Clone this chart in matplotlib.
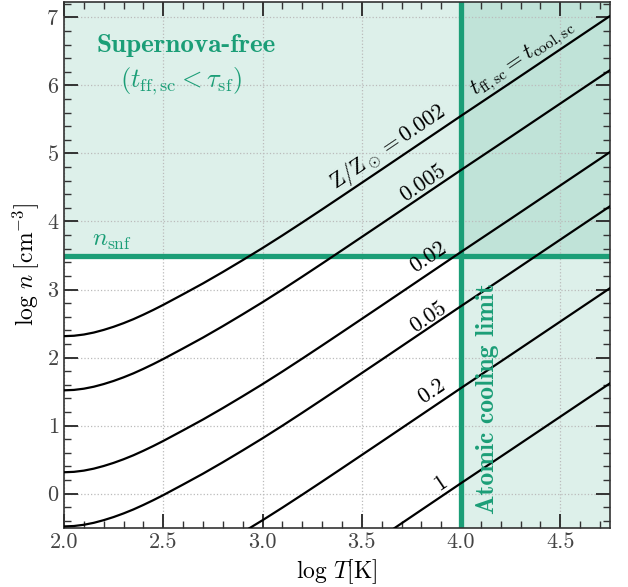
import numpy as np
import matplotlib
matplotlib.use("Agg")
import matplotlib.pyplot as plt
import matplotlib as mpl

mpl.rcParams.update({'font.family': 'serif',
                     'font.serif': ['cmr10'],
                     'mathtext.fontset': 'cm',
                     'axes.unicode_minus': False,
                     'axes.formatter.use_mathtext': True})

# log T grid and log n for each metallicity
log_T = [2.0, 2.05, 2.1, 2.15, 2.2, 2.25, 2.3, 2.35, 2.4, 2.45, 2.5, 2.55, 2.6,
         2.7, 2.8, 2.9, 3.0, 3.1, 3.2, 3.3, 3.4, 3.5, 3.6, 3.7, 3.8, 3.9, 4.0,
         4.25, 4.5, 4.75]
n_z0002 = [2.315, 2.321, 2.339, 2.368, 2.407, 2.453, 2.506, 2.565, 2.631, 2.701,
           2.775, 2.853, 2.931, 3.09, 3.258, 3.432, 3.61, 3.795, 3.985, 4.178,
           4.373, 4.569, 4.765, 4.962, 5.159, 5.356, 5.553, 6.04, 6.53, 7.02]
n_z0005 = [1.519, 1.525, 1.543, 1.572, 1.611, 1.657, 1.710, 1.769, 1.835, 1.905,
           1.979, 2.057, 2.135, 2.294, 2.462, 2.636, 2.814, 2.999, 3.189, 3.382,
           3.577, 3.773, 3.969, 4.166, 4.363, 4.560, 4.757, 5.244, 5.734, 6.224]
n_z002 = [0.315, 0.321, 0.339, 0.368, 0.407, 0.453, 0.506, 0.565, 0.631, 0.701,
          0.775, 0.853, 0.931, 1.09, 1.258, 1.432, 1.61, 1.795, 1.985, 2.178,
          2.373, 2.569, 2.765, 2.962, 3.159, 3.356, 3.553, 4.04, 4.53, 5.02]
n_z005 = [-0.481, -0.475, -0.457, -0.428, -0.389, -0.343, -0.290, -0.231, -0.165,
          -0.095, -0.021, 0.057, 0.135, 0.294, 0.462, 0.636, 0.814, 0.999, 1.189,
          1.382, 1.577, 1.773, 1.969, 2.166, 2.363, 2.560, 2.757, 3.244, 3.734,
          4.224]
n_z02 = [-1.685, -1.679, -1.661, -1.632, -1.593, -1.547, -1.494, -1.435, -1.369,
         -1.299, -1.225, -1.147, -1.069, -0.91, -0.742, -0.568, -0.39, -0.205,
         -0.015, 0.178, 0.373, 0.569, 0.765, 0.962, 1.159, 1.356, 1.553, 2.04,
         2.53, 3.02]
n_z1 = [-3.083, -3.077, -3.059, -3.030, -2.991, -2.945, -2.892, -2.833, -2.767,
        -2.697, -2.623, -2.545, -2.467, -2.308, -2.14, -1.966, -1.788, -1.603,
        -1.413, -1.22, -1.025, -0.829, -0.633, -0.436, -0.239, -0.042, 0.155,
        0.642, 1.132, 1.622]
curves = [n_z0002, n_z0005, n_z002, n_z005, n_z02, n_z1]
curve_labels = [r"${\rm Z}/{\rm Z}_\odot = 0.002$", "0.005", "0.02", "0.05", "0.2", "1"]
label_pos = [(3.632, 5.10), (3.81, 4.57), (3.834, 3.47), (3.834, 2.60),
             (3.854, 1.506), (3.894, 0.157)]

n_snf = 3.5
T_atomic = 4.0
green = "#1b9e77"
grey = "#333333"

fig = plt.figure(figsize=(6.28, 5.87), dpi=100)
ax = fig.add_axes([0.1019, 0.101, 0.8694, 0.8961])
ax.set_xlim(2.0, 4.75)
ax.set_ylim(-0.5, 7.23)

ax.axhspan(n_snf, 7.23, color=green, alpha=0.15, lw=0, zorder=0)
ax.axvspan(T_atomic, 4.75, color=green, alpha=0.15, lw=0, zorder=0)
ax.axhline(n_snf, color=green, lw=3.8, zorder=2)
ax.axvline(T_atomic, color=green, lw=3.8, zorder=2)

for y in curves:
    ax.plot(log_T, y, color="black", lw=1.6, zorder=3)

ang = 34
for lab, (x, y) in zip(curve_labels, label_pos):
    ax.text(x, y, lab, fontsize=16, rotation=ang, rotation_mode="anchor",
            ha="center", va="center", zorder=4)
ax.text(4.313, 6.39, r"$t_{\rm ff,sc} = t_{\rm cool,sc}$", fontsize=16,
        rotation=ang, rotation_mode="anchor", ha="center", va="center")

ax.text(2.615, 6.58, "Supernova-free", family="cmb10", fontsize=19.5,
        color=green, ha="center", va="center")
ax.text(2.59, 6.065, r"$(t_{\rm ff,sc} < \tau_{\rm sf})$", fontsize=19,
        color=green, ha="center", va="center")
ax.text(2.24, 3.72, r"$n_{\rm snf}$", fontsize=18, color=green,
        ha="center", va="center")
ax.text(4.133, -0.30, "Atomic cooling limit", family="cmb10", fontsize=18.5,
        color=green, rotation=90, ha="center", va="bottom")

ax.set_xticks(np.arange(2.0, 4.51, 0.5))
ax.set_yticks(np.arange(0, 7.1, 1))
ax.xaxis.set_minor_locator(mpl.ticker.MultipleLocator(0.1))
ax.yaxis.set_minor_locator(mpl.ticker.MultipleLocator(0.2))
ax.xaxis.set_major_formatter(mpl.ticker.FormatStrFormatter("%.1f"))
ax.tick_params(which="both", direction="in", top=True, right=True,
               colors=grey, labelsize=16, labelcolor="#444444")
ax.tick_params(which="major", length=10, width=1.4)
ax.tick_params(which="minor", length=5, width=1.0)
for s in ax.spines.values():
    s.set_color(grey)
    s.set_linewidth(1.2)
ax.grid(True, which="major", ls=":", color="#bbbbbb", lw=0.9, zorder=1)
ax.set_axisbelow(True)

ax.set_xlabel(r"$\log\,T[{\rm K}]$", fontsize=17)
ax.set_ylabel(r"$\log\,n\;[{\rm cm}^{-3}]$", fontsize=17)

plt.savefig("out.png", dpi=100)
plt.close()
